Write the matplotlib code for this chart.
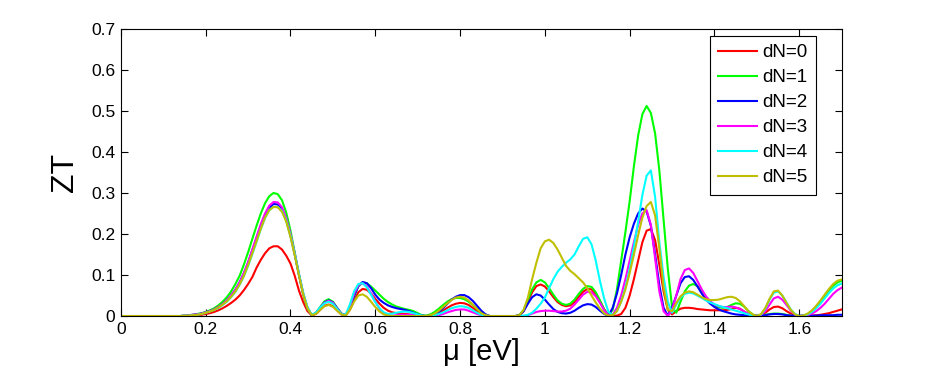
import numpy as np
import matplotlib
matplotlib.use("Agg")
import matplotlib.pyplot as plt

plt.rcParams["font.family"] = ["Liberation Sans", "DejaVu Sans"]

# chemical potential grid (eV), one sample every 0.01
mu = np.round(np.arange(0, 171) * 0.01, 2)

# ZT values, one row per 0.1 eV
zt_dN0 = [
    0, 0, 0, 0, 0, 0, 0, 0, 0, 0,
    0, 0, 0, 0, 0, 0.000, 0.001, 0.001, 0.002, 0.003,
    0.005, 0.007, 0.010, 0.014, 0.019, 0.025, 0.032, 0.040, 0.050, 0.063,
    0.078, 0.095, 0.118, 0.137, 0.153, 0.165, 0.170, 0.170, 0.162, 0.147,
    0.128, 0.098, 0.062, 0.034, 0.012, 0.002, 0.005, 0.015, 0.025, 0.028,
    0.024, 0.014, 0.004, 0.001, 0.015, 0.038, 0.058, 0.066, 0.064, 0.055,
    0.042, 0.030, 0.020, 0.013, 0.009, 0.007, 0.006, 0.005, 0.004, 0.003,
    0.002, 0.001, 0.000, 0.001, 0.003, 0.007, 0.013, 0.020, 0.026, 0.030,
    0.032, 0.031, 0.027, 0.020, 0.012, 0.005, 0.001, 0, 0, 0,
    0, 0, 0, 0, 0.001, 0.012, 0.035, 0.058, 0.073, 0.077,
    0.072, 0.060, 0.046, 0.034, 0.027, 0.024, 0.026, 0.034, 0.047, 0.059,
    0.066, 0.065, 0.054, 0.036, 0.016, 0.003, 0.000, 0.001, 0.005, 0.020,
    0.050, 0.090, 0.135, 0.180, 0.208, 0.212, 0.185, 0.125, 0.060, 0.015,
    0.004, 0.012, 0.018, 0.020, 0.020, 0.019, 0.017, 0.016, 0.015, 0.014,
    0.014, 0.014, 0.014, 0.015, 0.017, 0.020, 0.018, 0.011, 0.005, 0.002,
    0.000, 0.002, 0.008, 0.016, 0.022, 0.023, 0.019, 0.012, 0.006, 0.002,
    0, 0, 0, 0.001, 0.002, 0.003, 0.005, 0.007, 0.010, 0.013, 0.016,
]
zt_dN1 = [
    0, 0, 0, 0, 0, 0, 0, 0, 0, 0,
    0, 0, 0, 0, 0, 0.001, 0.002, 0.003, 0.005, 0.007,
    0.010, 0.014, 0.019, 0.026, 0.035, 0.046, 0.060, 0.078, 0.098, 0.125,
    0.155, 0.188, 0.220, 0.250, 0.275, 0.292, 0.300, 0.297, 0.282, 0.252,
    0.208, 0.155, 0.100, 0.052, 0.018, 0.002, 0.008, 0.022, 0.036, 0.041,
    0.035, 0.020, 0.006, 0.002, 0.018, 0.048, 0.072, 0.082, 0.080, 0.072,
    0.062, 0.052, 0.042, 0.034, 0.028, 0.023, 0.020, 0.017, 0.015, 0.012,
    0.007, 0.002, 0.001, 0.004, 0.010, 0.018, 0.027, 0.035, 0.041, 0.044,
    0.044, 0.041, 0.035, 0.027, 0.018, 0.009, 0.003, 0, 0, 0,
    0, 0, 0, 0, 0.002, 0.015, 0.040, 0.065, 0.082, 0.088,
    0.082, 0.068, 0.052, 0.038, 0.030, 0.027, 0.030, 0.040, 0.054, 0.066,
    0.073, 0.071, 0.058, 0.038, 0.016, 0.002, 0.015, 0.065, 0.135, 0.205,
    0.280, 0.365, 0.440, 0.492, 0.512, 0.495, 0.445, 0.355, 0.235, 0.115,
    0.022, 0.008, 0.035, 0.060, 0.074, 0.078, 0.073, 0.060, 0.045, 0.033,
    0.025, 0.021, 0.020, 0.022, 0.027, 0.031, 0.030, 0.023, 0.012, 0.004,
    0, 0.001, 0.003, 0.005, 0.006, 0.006, 0.005, 0.003, 0.001, 0,
    0, 0.001, 0.005, 0.012, 0.022, 0.035, 0.049, 0.063, 0.074, 0.082, 0.086,
]
zt_dN2 = [
    0, 0, 0, 0, 0, 0, 0, 0, 0, 0,
    0, 0, 0, 0, 0, 0.001, 0.002, 0.003, 0.004, 0.006,
    0.009, 0.012, 0.016, 0.022, 0.029, 0.038, 0.050, 0.064, 0.082, 0.104,
    0.130, 0.160, 0.190, 0.220, 0.246, 0.264, 0.273, 0.272, 0.260, 0.234,
    0.196, 0.150, 0.100, 0.054, 0.020, 0.002, 0.007, 0.020, 0.033, 0.038,
    0.033, 0.019, 0.006, 0.002, 0.020, 0.050, 0.073, 0.083, 0.080, 0.068,
    0.052, 0.040, 0.032, 0.026, 0.022, 0.019, 0.017, 0.015, 0.012, 0.008,
    0.004, 0.001, 0, 0.001, 0.004, 0.010, 0.019, 0.030, 0.040, 0.047,
    0.051, 0.051, 0.046, 0.037, 0.025, 0.013, 0.004, 0, 0, 0,
    0, 0, 0, 0, 0.002, 0.012, 0.030, 0.046, 0.053, 0.050,
    0.040, 0.028, 0.017, 0.010, 0.007, 0.006, 0.008, 0.013, 0.020, 0.026,
    0.029, 0.028, 0.022, 0.013, 0.005, 0.001, 0.020, 0.055, 0.100, 0.150,
    0.192, 0.225, 0.250, 0.262, 0.255, 0.220, 0.150, 0.075, 0.020, 0.001,
    0.020, 0.050, 0.080, 0.095, 0.097, 0.088, 0.072, 0.055, 0.040, 0.030,
    0.022, 0.016, 0.012, 0.009, 0.006, 0.004, 0.003, 0.002, 0.001, 0.001,
    0.001, 0.001, 0.002, 0.004, 0.005, 0.005, 0.004, 0.002, 0.001, 0.001,
    0.001, 0.001, 0.001, 0.001, 0.001, 0.002, 0.002, 0.002, 0.002, 0.003, 0.003,
]
zt_dN3 = [
    0, 0, 0, 0, 0, 0, 0, 0, 0, 0,
    0, 0, 0, 0, 0, 0.001, 0.002, 0.003, 0.004, 0.006,
    0.009, 0.012, 0.016, 0.022, 0.029, 0.038, 0.050, 0.064, 0.082, 0.104,
    0.131, 0.162, 0.193, 0.224, 0.250, 0.269, 0.278, 0.277, 0.265, 0.238,
    0.200, 0.153, 0.102, 0.055, 0.020, 0.002, 0.007, 0.020, 0.032, 0.037,
    0.032, 0.018, 0.005, 0.002, 0.022, 0.055, 0.075, 0.080, 0.072, 0.055,
    0.035, 0.018, 0.007, 0.002, 0.001, 0.002, 0.003, 0.003, 0.003, 0.002,
    0.001, 0, 0, 0, 0, 0.002, 0.005, 0.009, 0.012, 0.015,
    0.016, 0.016, 0.013, 0.009, 0.005, 0.002, 0, 0, 0, 0,
    0, 0, 0, 0, 0, 0, 0.002, 0.006, 0.010, 0.012,
    0.013, 0.013, 0.012, 0.011, 0.011, 0.013, 0.018, 0.028, 0.040, 0.052,
    0.059, 0.058, 0.048, 0.032, 0.014, 0.002, 0.003, 0.020, 0.050, 0.090,
    0.135, 0.180, 0.222, 0.250, 0.258, 0.222, 0.140, 0.060, 0.012, 0.000,
    0.015, 0.050, 0.090, 0.112, 0.116, 0.105, 0.085, 0.065, 0.048, 0.036,
    0.028, 0.024, 0.022, 0.022, 0.023, 0.021, 0.017, 0.011, 0.005, 0.001,
    0, 0.003, 0.012, 0.028, 0.043, 0.047, 0.040, 0.027, 0.013, 0.004,
    0, 0, 0.002, 0.006, 0.012, 0.020, 0.030, 0.042, 0.054, 0.063, 0.069,
]
zt_dN4 = [
    0, 0, 0, 0, 0, 0, 0, 0, 0, 0,
    0, 0, 0, 0, 0, 0.001, 0.001, 0.002, 0.003, 0.005,
    0.008, 0.011, 0.015, 0.020, 0.027, 0.035, 0.046, 0.059, 0.076, 0.097,
    0.122, 0.151, 0.181, 0.212, 0.239, 0.258, 0.266, 0.266, 0.256, 0.232,
    0.196, 0.152, 0.103, 0.057, 0.022, 0.003, 0.008, 0.021, 0.031, 0.035,
    0.030, 0.017, 0.005, 0.003, 0.028, 0.060, 0.078, 0.080, 0.070, 0.052,
    0.034, 0.019, 0.009, 0.005, 0.006, 0.008, 0.010, 0.011, 0.010, 0.007,
    0.004, 0.001, 0, 0, 0.002, 0.005, 0.009, 0.014, 0.019, 0.022,
    0.024, 0.023, 0.020, 0.014, 0.008, 0.003, 0.001, 0, 0, 0,
    0, 0, 0, 0, 0, 0.001, 0.003, 0.008, 0.018, 0.030,
    0.045, 0.068, 0.090, 0.108, 0.120, 0.130, 0.138, 0.150, 0.170, 0.188,
    0.192, 0.175, 0.135, 0.085, 0.042, 0.010, 0.002, 0.012, 0.035, 0.070,
    0.115, 0.170, 0.230, 0.295, 0.342, 0.355, 0.290, 0.180, 0.095, 0.035,
    0.008, 0.028, 0.045, 0.054, 0.057, 0.055, 0.050, 0.044, 0.038, 0.033,
    0.029, 0.025, 0.022, 0.019, 0.016, 0.013, 0.010, 0.007, 0.004, 0.001,
    0, 0.004, 0.018, 0.040, 0.057, 0.060, 0.050, 0.033, 0.016, 0.005,
    0, 0, 0.004, 0.010, 0.019, 0.030, 0.043, 0.056, 0.067, 0.075, 0.079,
]
zt_dN5 = [
    0, 0, 0, 0, 0, 0, 0, 0, 0, 0,
    0, 0, 0, 0, 0, 0.001, 0.001, 0.002, 0.003, 0.005,
    0.008, 0.011, 0.015, 0.021, 0.028, 0.036, 0.047, 0.060, 0.077, 0.098,
    0.124, 0.153, 0.183, 0.213, 0.240, 0.258, 0.266, 0.265, 0.254, 0.230,
    0.193, 0.148, 0.099, 0.053, 0.019, 0.002, 0.005, 0.015, 0.024, 0.027,
    0.023, 0.013, 0.004, 0.001, 0.015, 0.035, 0.050, 0.053, 0.047, 0.035,
    0.022, 0.011, 0.004, 0.001, 0, 0, 0, 0, 0, 0,
    0, 0, 0, 0.002, 0.006, 0.013, 0.022, 0.031, 0.039, 0.045,
    0.047, 0.045, 0.038, 0.028, 0.017, 0.007, 0.002, 0, 0, 0,
    0, 0, 0, 0, 0.002, 0.015, 0.045, 0.090, 0.130, 0.165,
    0.182, 0.186, 0.178, 0.162, 0.142, 0.122, 0.110, 0.102, 0.092, 0.082,
    0.068, 0.050, 0.033, 0.018, 0.006, 0.001, 0.002, 0.012, 0.035, 0.065,
    0.105, 0.150, 0.197, 0.240, 0.268, 0.278, 0.245, 0.165, 0.070, 0.015,
    0.012, 0.032, 0.048, 0.057, 0.060, 0.058, 0.052, 0.046, 0.041, 0.039,
    0.039, 0.040, 0.043, 0.046, 0.047, 0.044, 0.036, 0.024, 0.012, 0.004,
    0, 0.005, 0.020, 0.042, 0.060, 0.062, 0.050, 0.032, 0.015, 0.004,
    0, 0.001, 0.006, 0.014, 0.025, 0.038, 0.052, 0.066, 0.078, 0.086, 0.089,
]

labels = ["dN=0", "dN=1", "dN=2", "dN=3", "dN=4", "dN=5"]
series = [zt_dN0, zt_dN1, zt_dN2, zt_dN3, zt_dN4, zt_dN5]
colors = ["#ff0000", "#00ff00", "#0000ff", "#ff00ff", "#00ffff", "#bfbf00"]

fig = plt.figure(figsize=(9.3, 3.84), dpi=100)
ax = fig.add_axes([0.130, 0.177, 0.775, 0.748])

for y, c, lab in zip(series, colors, labels):
    ax.plot(mu, y, color=c, lw=1.5, label=lab)

ax.set_xlim(0, 1.7)
ax.set_ylim(0, 0.7)
ax.set_xticks([0, 0.2, 0.4, 0.6, 0.8, 1.0, 1.2, 1.4, 1.6])
ax.set_xticklabels(["0", "0.2", "0.4", "0.6", "0.8", "1", "1.2", "1.4", "1.6"])
ax.set_yticks([0, 0.1, 0.2, 0.3, 0.4, 0.5, 0.6, 0.7])
ax.set_yticklabels(["0", "0.1", "0.2", "0.3", "0.4", "0.5", "0.6", "0.7"])
ax.tick_params(direction="in", length=5, width=0.8, top=True, right=True,
               labelsize=12.5, pad=4)
for s in ax.spines.values():
    s.set_linewidth(0.8)

ax.set_xlabel("\u03bc [eV]", fontsize=21, labelpad=1)
ax.set_ylabel("ZT", fontsize=23, labelpad=8)

leg = ax.legend(loc="upper right", bbox_to_anchor=(0.964, 0.976),
                borderaxespad=0, fontsize=13.5, handlelength=2.1,
                handletextpad=0.25, labelspacing=0.42, borderpad=0.45,
                fancybox=False, framealpha=1)
leg.get_frame().set_edgecolor("black")
leg.get_frame().set_linewidth(0.8)

fig.savefig("out.png", dpi=100)
